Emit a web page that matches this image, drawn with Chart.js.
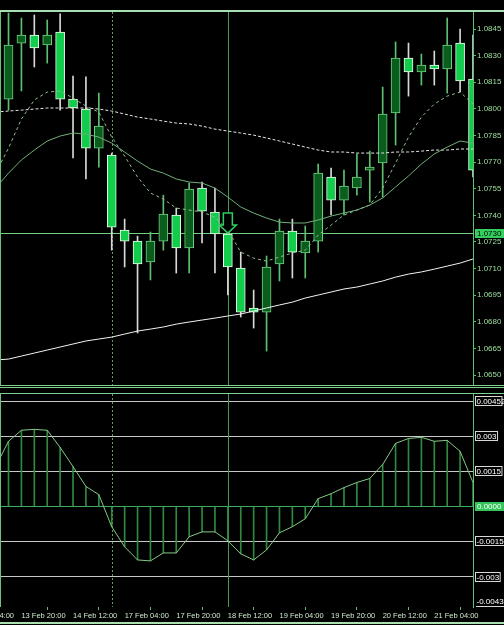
<!DOCTYPE html>
<html><head><meta charset="utf-8">
<script src="https://cdn.jsdelivr.net/npm/chart.js@4.4.1/dist/chart.umd.min.js"></script>
<style>
html,body{margin:0;padding:0;background:#000;width:504px;height:625px;overflow:hidden}
#ca{position:absolute;left:0;top:0}
#cb{position:absolute;left:0;top:388px}
</style></head><body>
<canvas id="ca" width="504" height="388"></canvas>
<canvas id="cb" width="504" height="237"></canvas>
<script>
// ---- data (H4 bars, index 0 = 13 Feb 16:00) ----
const timeLabels = ["13 Feb 04:00","13 Feb 20:00","14 Feb 12:00","17 Feb 04:00","17 Feb 20:00","18 Feb 12:00","19 Feb 04:00","19 Feb 20:00","20 Feb 12:00","21 Feb 04:00"];
const timeLabelBars = [-3,1,5,9,13,17,21,25,29,33];
const opens  = [1.08055,1.08371,1.08416,1.08360,1.08433,1.08055,1.07999,1.07779,1.07740,1.07317,1.07255,1.07137,1.07255,1.07402,1.07216,1.07554,1.07419,1.07295,1.07103,1.06878,1.06855,1.07126,1.07312,1.07188,1.07255,1.07616,1.07486,1.07554,1.07655,1.07695,1.07977,1.08287,1.08208,1.08247,1.08225,1.08371,1.08168];
const highs  = [1.08540,1.08512,1.08529,1.08501,1.08535,1.08185,1.08180,1.08089,1.07751,1.07379,1.07283,1.07306,1.07514,1.07441,1.07582,1.07588,1.07554,1.07306,1.07193,1.06979,1.07171,1.07379,1.07379,1.07340,1.07689,1.07667,1.07655,1.07745,1.07762,1.08123,1.08377,1.08371,1.08309,1.08326,1.08512,1.08450,1.08416];
const lows   = [1.07993,1.08101,1.08236,1.08258,1.07993,1.07723,1.07605,1.07672,1.07204,1.07109,1.06737,1.07036,1.07204,1.07075,1.07075,1.07244,1.07075,1.06951,1.06827,1.06765,1.06635,1.07030,1.07047,1.07047,1.07193,1.07402,1.07402,1.07514,1.07475,1.07503,1.07796,1.08072,1.08134,1.08134,1.08089,1.08095,1.07616];
const closes = [1.08360,1.08416,1.08343,1.08416,1.08055,1.08005,1.07779,1.07903,1.07334,1.07255,1.07126,1.07255,1.07407,1.07216,1.07548,1.07424,1.07295,1.07109,1.06855,1.06855,1.07109,1.07312,1.07193,1.07255,1.07638,1.07486,1.07565,1.07616,1.07672,1.07971,1.08287,1.08208,1.08247,1.08225,1.08360,1.08157,1.07655];
// moving averages, first value belongs to bar -1
const maFast = [1.07638,1.07779,1.07943,1.08050,1.08095,1.08101,1.08061,1.08016,1.07982,1.07841,1.07734,1.07616,1.07526,1.07492,1.07441,1.07430,1.07419,1.07390,1.07317,1.07193,1.07159,1.07142,1.07165,1.07188,1.07204,1.07289,1.07345,1.07402,1.07430,1.07458,1.07554,1.07695,1.07841,1.07954,1.08027,1.08072,1.08095,1.08027];
const maMid  = [1.07554,1.07638,1.07712,1.07768,1.07819,1.07847,1.07864,1.07858,1.07841,1.07807,1.07757,1.07706,1.07661,1.07638,1.07605,1.07588,1.07582,1.07554,1.07503,1.07447,1.07413,1.07385,1.07362,1.07357,1.07357,1.07374,1.07396,1.07413,1.07430,1.07458,1.07498,1.07560,1.07622,1.07689,1.07746,1.07785,1.07819,1.07807];
const maSlow = [1.07982,1.07988,1.07993,1.07999,1.08005,1.08005,1.08005,1.08005,1.07999,1.07988,1.07971,1.07954,1.07943,1.07931,1.07920,1.07915,1.07903,1.07886,1.07875,1.07864,1.07852,1.07836,1.07819,1.07802,1.07785,1.07768,1.07757,1.07757,1.07751,1.07751,1.07751,1.07757,1.07757,1.07762,1.07768,1.07768,1.07774,1.07774];
const maLong = [1.06585,1.06590,1.06607,1.06624,1.06641,1.06658,1.06675,1.06692,1.06703,1.06714,1.06731,1.06748,1.06759,1.06771,1.06787,1.06799,1.06810,1.06821,1.06833,1.06844,1.06861,1.06878,1.06895,1.06911,1.06934,1.06951,1.06968,1.06985,1.06996,1.07013,1.07030,1.07052,1.07069,1.07081,1.07097,1.07114,1.07131,1.07154];
// oscillator, first value belongs to bar -1
const oscValues = [0.00170,0.00278,0.00325,0.00329,0.00325,0.00252,0.00170,0.00085,0.00050,-0.00087,-0.00173,-0.00229,-0.00233,-0.00199,-0.00199,-0.00130,-0.00109,-0.00109,-0.00147,-0.00203,-0.00229,-0.00186,-0.00113,-0.00087,-0.00053,0.00033,0.00054,0.00080,0.00102,0.00119,0.00179,0.00269,0.00290,0.00295,0.00278,0.00282,0.00235,0.00102];
const priceTicks = [1.0650,1.0665,1.0680,1.0695,1.0710,1.0725,1.0740,1.0755,1.0770,1.0785,1.0800,1.0815,1.0830,1.0845];
const oscLevels = [-0.003,-0.0015,0,0.0015,0.003,0.0045];
const oscLevelLabels = ["-0.003","-0.0015","0.0000","0.0015","0.003","0.00452"];
const oscMinLabel = "-0.0043";
const hLinePrice = 1.0730, hLineLabel = "1.0730";
const vLineBar = 17, sepBar = 8;
const arrowBar = 17, arrowPrice = 1.0730;
const priceMin = 1.06444, priceMax = 1.08546;
const oscMin = -0.0043, oscMax = 0.0048;
const xMin = -0.66, xMax = 36.0;

Chart.defaults.font.family = "'Liberation Sans', Arial, sans-serif";
const AX = '#5fbf6f';
const bull = i => closes[i] >= opens[i];
const shifted = arr => arr.map((v,i)=>({x:i-1,y:v}));

function vlines(chart){
  const {ctx, chartArea:a, scales:{x}} = chart;
  ctx.save(); ctx.lineWidth=1;
  let px = Math.round(x.getPixelForValue(sepBar))+0.5;
  ctx.strokeStyle='#4fa35f'; ctx.setLineDash([2,2]);
  ctx.beginPath(); ctx.moveTo(px,a.top); ctx.lineTo(px,a.bottom); ctx.stroke();
  ctx.setLineDash([]);
  px = Math.round(x.getPixelForValue(vLineBar))+0.5;
  ctx.strokeStyle='#4a9a5a';
  ctx.beginPath(); ctx.moveTo(px,a.top); ctx.lineTo(px,a.bottom); ctx.stroke();
  ctx.restore();
}

const mainDecor = {
  id:'mainDecor',
  beforeDatasetsDraw(chart){
    vlines(chart);
    const {ctx, chartArea:a, scales:{y}} = chart;
    const hy = Math.round(y.getPixelForValue(hLinePrice))+0.5;
    ctx.save(); ctx.strokeStyle='#6fd07f'; ctx.lineWidth=1;
    ctx.beginPath(); ctx.moveTo(a.left,hy); ctx.lineTo(a.right,hy); ctx.stroke();
    ctx.restore();
  },
  afterDraw(chart){
    const {ctx, chartArea:a, scales:{x,y}} = chart;
    ctx.save();
    // price label box
    const hy = Math.round(y.getPixelForValue(hLinePrice));
    ctx.fillStyle='#33d060'; ctx.fillRect(475,hy-4,29,9);
    ctx.fillStyle='#000'; ctx.font="8px 'Liberation Sans', Arial"; ctx.textBaseline='middle';
    ctx.fillText(hLineLabel,477,hy+0.5);
    // arrow
    const cx = x.getPixelForValue(arrowBar), tip = y.getPixelForValue(arrowPrice), top = tip-20;
    ctx.beginPath();
    ctx.moveTo(cx-4.5,top); ctx.lineTo(cx+4.5,top); ctx.lineTo(cx+4.5,top+12); ctx.lineTo(cx+8.5,top+12);
    ctx.lineTo(cx,tip); ctx.lineTo(cx-8.5,top+12); ctx.lineTo(cx-4.5,top+12); ctx.closePath();
    ctx.fillStyle='#000'; ctx.fill(); ctx.strokeStyle='#2fd05f'; ctx.lineWidth=1.5; ctx.stroke();
    // borders
    ctx.fillStyle='#a8e0b0'; ctx.fillRect(0,10,504,2);
    ctx.fillStyle='#6fbf7f'; ctx.fillRect(0,12,1,a.bottom-12);
    ctx.fillStyle='#7fd08f'; ctx.fillRect(0,385,504,1); ctx.fillRect(0,387,504,1);
    ctx.restore();
  }
};

new Chart(document.getElementById('ca'), {
  type:'bar',
  data:{datasets:[
    {type:'line', data:shifted(maFast), borderColor:'#8fbf8f', borderWidth:1, borderDash:[3,3], pointRadius:0, order:0},
    {type:'line', data:shifted(maMid), borderColor:'#6fb07a', borderWidth:1, pointRadius:0, order:0},
    {type:'line', data:shifted(maSlow), borderColor:'#e8e8e8', borderWidth:1, borderDash:[3,2], pointRadius:0, order:0},
    {type:'line', data:shifted(maLong), borderColor:'#f2f2f2', borderWidth:1, pointRadius:0, order:0},
    {type:'bar', data:opens.map((o,i)=>({x:i,y:[o,closes[i]]})), grouped:false, barThickness:9, borderWidth:1, borderSkipped:false,
      backgroundColor:c=>bull(c.dataIndex)?'#0b5d1e':'#12cc4c', borderColor:c=>bull(c.dataIndex)?'#6fd07f':'#f0fff0', order:1},
    {type:'bar', data:highs.map((h,i)=>({x:i,y:[lows[i],h]})), grouped:false, barThickness:1, borderWidth:0,
      backgroundColor:c=>bull(c.dataIndex)?'#5fbf6f':'#d8d8d8', order:2}
  ]},
  options:{
    responsive:false, animation:false, events:[],
    layout:{padding:{top:12,bottom:3,left:0,right:0}},
    plugins:{legend:{display:false}, tooltip:{enabled:false}},
    scales:{
      x:{type:'linear', min:xMin, max:xMax, display:false, offset:false},
      y:{position:'right', min:priceMin, max:priceMax,
        afterBuildTicks:s=>{s.ticks=priceTicks.map(v=>({value:v}));},
        afterFit:s=>{s.width=31; s.paddingTop=0; s.paddingBottom=0;},
        ticks:{color:'#9be09b', font:{size:8}, padding:1, callback:v=>Number(v).toFixed(4)},
        grid:{drawOnChartArea:false, color:AX, tickLength:3},
        border:{display:true, color:AX}}
    }
  },
  plugins:[mainDecor]
});

const oscDecor = {
  id:'oscDecor',
  beforeDatasetsDraw(chart){ vlines(chart); },
  afterDraw(chart){
    const {ctx, chartArea:a, scales:{y}} = chart;
    ctx.save();
    ctx.font="8px 'Liberation Sans', Arial"; ctx.textBaseline='middle';
    oscLevels.forEach((v,i)=>{
      const yy = Math.round(y.getPixelForValue(v));
      const t = oscLevelLabels[i];
      if (v===0){
        ctx.fillStyle='#33c45a'; ctx.fillRect(475,yy-4,29,9);
        ctx.fillStyle='#fff'; ctx.fillText(t,477,yy+0.5);
      } else {
        const w = ctx.measureText(v===0.0045?'0.0045':t).width;
        ctx.strokeStyle='#d8d8d8'; ctx.lineWidth=1; ctx.strokeRect(475.5,yy-4.5,w+2,9);
        ctx.fillStyle='#fff'; ctx.fillText(t,476.5,yy+0.5);
      }
    });
    const by = a.bottom-5;
    ctx.fillStyle='#fff'; ctx.fillText(oscMinLabel,476.5,by);
    ctx.fillStyle='#d8d8d8'; ctx.fillRect(476,a.bottom-1,ctx.measureText(oscMinLabel).width+1,1);
    // borders
    ctx.fillStyle='#7fd08f'; ctx.fillRect(0,5,504,1);
    ctx.fillStyle='#6fbf7f'; ctx.fillRect(0,5,1,a.bottom-5);
    ctx.fillStyle='#a8e0b0'; ctx.fillRect(0,234,504,2);
    ctx.restore();
  }
};

new Chart(document.getElementById('cb'), {
  type:'bar',
  data:{datasets:[
    {type:'line', data:shifted(oscValues), borderColor:'#86c886', borderWidth:1, pointRadius:0, order:0},
    {type:'bar', data:shifted(oscValues), grouped:false, barThickness:1, borderWidth:0, backgroundColor:'#2f8a40', order:1}
  ]},
  options:{
    responsive:false, animation:false, events:[],
    layout:{padding:{top:6,bottom:0,left:0,right:0}},
    plugins:{legend:{display:false}, tooltip:{enabled:false}},
    scales:{
      x:{type:'linear', min:xMin, max:xMax, offset:false,
        afterBuildTicks:s=>{s.ticks=timeLabelBars.map(v=>({value:v}));},
        afterFit:s=>{s.height=18; s.paddingLeft=0; s.paddingRight=0;},
        ticks:{autoSkip:false, maxRotation:0, minRotation:0, align:'start', color:'#cfe8cf', font:{size:7.5}, padding:1,
          callback:(v,i)=>timeLabels[i]},
        grid:{drawOnChartArea:false, color:AX, tickLength:3},
        border:{display:false}},
      y:{position:'right', min:oscMin, max:oscMax,
        afterBuildTicks:s=>{s.ticks=oscLevels.map(v=>({value:v}));},
        afterFit:s=>{s.width=31; s.paddingTop=0; s.paddingBottom=0;},
        ticks:{display:false},
        grid:{drawTicks:false, color:c=>(c.tick && c.tick.value===0)?'#3fae5f':'#c8c8c8'},
        border:{display:true, color:AX}}
    }
  },
  plugins:[oscDecor]
});
</script>
</body></html>
